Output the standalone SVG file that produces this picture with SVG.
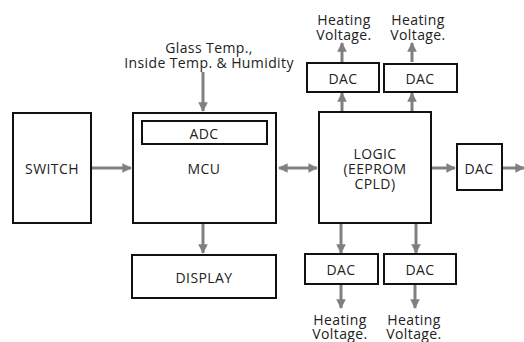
<svg xmlns="http://www.w3.org/2000/svg" width="524" height="342" viewBox="0 0 524 342">
<style>
.box{fill:#fff;stroke:#111;stroke-width:2}
.t{font-family:"Open Sans","Noto Sans",sans-serif;font-size:14px;letter-spacing:0.4px;fill:#222;text-anchor:middle;dominant-baseline:central}
.c{stroke:#808080;stroke-width:3;fill:none}
</style>
<defs>
<marker id="a" viewBox="0 0 10 10" refX="9" refY="5" markerWidth="3.2" markerHeight="3.2" orient="auto-start-reverse" markerUnits="strokeWidth">
<path d="M0,0L10,5L0,10z" fill="#808080"/>
</marker>
</defs>
<rect width="524" height="342" fill="#fff"/>
<g id="connectors">
<line class="c" x1="203" y1="72" x2="203" y2="111" marker-end="url(#a)"/>
<line class="c" x1="92" y1="168" x2="131" y2="168" marker-end="url(#a)"/>
<line class="c" x1="279" y1="168" x2="317" y2="168" marker-start="url(#a)" marker-end="url(#a)"/>
<line class="c" x1="203" y1="224" x2="203" y2="253" marker-end="url(#a)"/>
<line class="c" x1="432" y1="168" x2="455" y2="168" marker-end="url(#a)"/>
<line class="c" x1="503" y1="168" x2="524" y2="168" marker-end="url(#a)"/>
<line class="c" x1="342" y1="111" x2="342" y2="93" marker-end="url(#a)"/>
<line class="c" x1="412" y1="111" x2="412" y2="93" marker-end="url(#a)"/>
<line class="c" x1="342" y1="62" x2="342" y2="43" marker-end="url(#a)"/>
<line class="c" x1="412" y1="62" x2="412" y2="43" marker-end="url(#a)"/>
<line class="c" x1="341" y1="224" x2="341" y2="253" marker-end="url(#a)"/>
<line class="c" x1="416" y1="224" x2="416" y2="253" marker-end="url(#a)"/>
<line class="c" x1="341" y1="285" x2="341" y2="308" marker-end="url(#a)"/>
<line class="c" x1="415" y1="285" x2="415" y2="308" marker-end="url(#a)"/>
</g>
<g id="input-label">
<text class="t" x="209" y="47">Glass Temp.,</text>
<text class="t" x="209" y="62">Inside Temp. &amp; Humidity</text>
</g>
<g id="switch"><rect class="box" x="13" y="113" width="78" height="110"/><text class="t" x="52" y="168">SWITCH</text></g>
<g id="mcu"><rect class="box" x="133" y="113" width="143" height="110"/><text class="t" x="204" y="168">MCU</text></g>
<g id="adc"><rect class="box" x="142" y="121" width="125" height="23"/><text class="t" x="204" y="133">ADC</text></g>
<g id="logic"><rect class="box" x="319" y="112" width="112" height="111"/><text class="t" x="375" y="153">LOGIC</text><text class="t" x="375" y="168">(EEPROM</text><text class="t" x="375" y="183">CPLD)</text></g>
<g id="dac-right"><rect class="box" x="457" y="144" width="45" height="46"/><text class="t" x="479" y="168">DAC</text></g>
<g id="display"><rect class="box" x="132" y="255" width="144" height="43"/><text class="t" x="204" y="277">DISPLAY</text></g>
<g id="dac-top1"><rect class="box" x="307" y="63" width="72" height="29"/><text class="t" x="343" y="78">DAC</text></g>
<g id="dac-top2"><rect class="box" x="384" y="64" width="73" height="28"/><text class="t" x="420" y="78">DAC</text></g>
<g id="dac-bot1"><rect class="box" x="305" y="254" width="73" height="30"/><text class="t" x="341" y="269">DAC</text></g>
<g id="dac-bot2"><rect class="box" x="384" y="254" width="72" height="30"/><text class="t" x="420" y="269">DAC</text></g>
<g id="labels">
<text class="t" x="344" y="19">Heating</text><text class="t" x="344" y="34">Voltage.</text>
<text class="t" x="418" y="19">Heating</text><text class="t" x="418" y="34">Voltage.</text>
<text class="t" x="340" y="319">Heating</text><text class="t" x="340" y="333">Voltage.</text>
<text class="t" x="414" y="319">Heating</text><text class="t" x="414" y="333">Voltage.</text>
</g>
</svg>
